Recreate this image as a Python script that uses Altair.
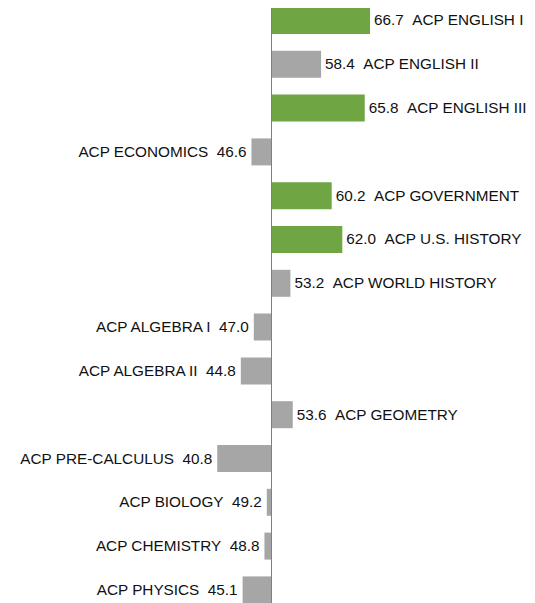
import altair as alt
import pandas as pd

subjects = [
    "ACP ENGLISH I", "ACP ENGLISH II", "ACP ENGLISH III", "ACP ECONOMICS",
    "ACP GOVERNMENT", "ACP U.S. HISTORY", "ACP WORLD HISTORY", "ACP ALGEBRA I",
    "ACP ALGEBRA II", "ACP GEOMETRY", "ACP PRE-CALCULUS", "ACP BIOLOGY",
    "ACP CHEMISTRY", "ACP PHYSICS",
]
scores = [66.7, 58.4, 65.8, 46.6, 60.2, 62.0, 53.2, 47.0, 44.8, 53.6, 40.8, 49.2, 48.8, 45.1]
baseline = 50.0
highlight_threshold = 60.0

sp = "\u00a0\u00a0"
df = pd.DataFrame({"subject": subjects, "score": scores})
df["base"] = baseline
df["label"] = [
    f"{s:.1f}{sp}{n}" if s >= baseline else f"{n}{sp}{s:.1f}"
    for n, s in zip(subjects, scores)
]
df["side"] = ["right" if s >= baseline else "left" for s in scores]

W, H = 519, 595
x_scale = alt.Scale(domain=[5.34, 93.3], zero=False, nice=False)
y_scale = alt.Scale(domain=subjects, range=[-1, 595.4], paddingInner=0.3836, paddingOuter=0)

base = alt.Chart(df)

bars = base.mark_bar().encode(
    x=alt.X("score:Q", scale=x_scale, axis=None),
    x2="base:Q",
    y=alt.Y("subject:N", scale=y_scale, axis=None, sort=None),
    color=alt.condition(
        alt.datum.score >= highlight_threshold,
        alt.value("#70A544"),
        alt.value("#A6A6A6"),
    ),
)

rule = alt.Chart(pd.DataFrame({"v": [baseline]})).mark_rule(color="#808080", strokeWidth=1).encode(
    x=alt.X("v:Q", scale=x_scale, axis=None)
)

text_common = dict(font="Liberation Sans", fontSize=15.3, color="#111111", baseline="middle")

right_text = base.transform_filter(alt.datum.side == "right").mark_text(
    align="left", dx=4, **text_common
).encode(
    x=alt.X("score:Q", scale=x_scale, axis=None),
    y=alt.Y("subject:N", scale=y_scale, axis=None, sort=None),
    text="label:N",
)

left_text = base.transform_filter(alt.datum.side == "left").mark_text(
    align="right", dx=-5, **text_common
).encode(
    x=alt.X("score:Q", scale=x_scale, axis=None),
    y=alt.Y("subject:N", scale=y_scale, axis=None, sort=None),
    text="label:N",
)

chart = alt.layer(bars, rule, right_text, left_text).properties(
    width=W, height=H, autosize=alt.AutoSizeParams(type="none"), padding=0
).configure_view(stroke=None)

chart.save("out.html", embed_options={"renderer": "svg", "actions": False})
